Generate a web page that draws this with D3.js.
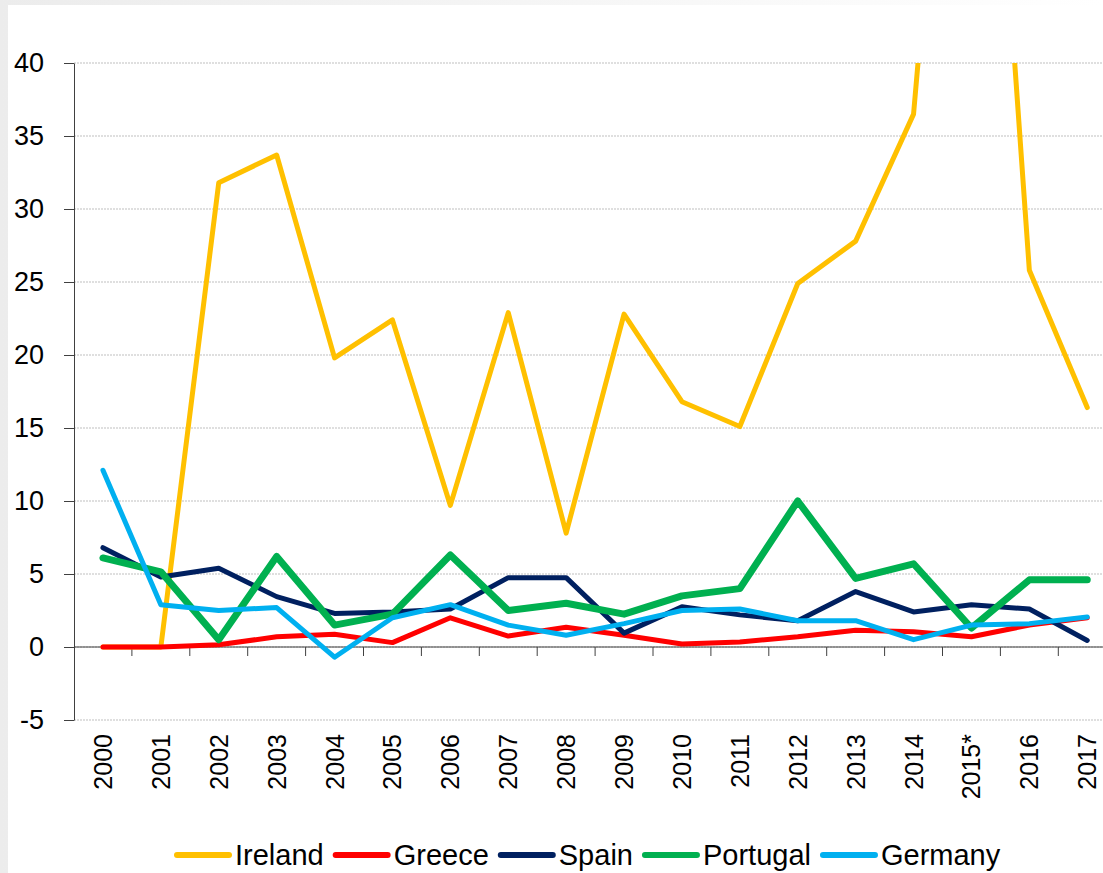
<!DOCTYPE html>
<html lang="en">
<head>
  <meta charset="UTF-8">
  <title>FDI inflows, % of GDP</title>
  <script src="https://d3js.org/d3.v7.min.js"></script>
  <style>
    body { margin: 0; background: #fff; }
    text { font-family: "Liberation Sans Narrow", "Liberation Sans", sans-serif; fill: #000; }
    .grid line { stroke: #bfbfbf; stroke-width: 1px; stroke-dasharray: 2 1; }
    .series { fill: none; stroke-linejoin: round; stroke-linecap: round; }
  </style>
</head>
<body>

<svg width="1103" height="873"></svg>

<script>
  // Years along the x axis
  var years = ['2000', '2001', '2002', '2003', '2004', '2005', '2006', '2007', '2008',
               '2009', '2010', '2011', '2012', '2013', '2014', '2015*', '2016', '2017'];

  // Values
  var ireland  = [0, 0, 31.8, 33.7, 19.8, 22.4, 9.7, 22.9, 7.8, 22.8, 16.8, 15.1, 24.9, 27.8, 36.5, 82, 25.8, 16.4];
  var greece   = [0, 0, 0.15, 0.7, 0.87, 0.3, 2.0, 0.75, 1.35, 0.8, 0.2, 0.35, 0.7, 1.15, 1.05, 0.7, 1.5, 2.0];
  var spain    = [6.8, 4.8, 5.4, 3.45, 2.3, 2.4, 2.6, 4.75, 4.75, 0.95, 2.75, 2.2, 1.8, 3.8, 2.4, 2.9, 2.6, 0.45];
  var portugal = [6.1, 5.15, 0.5, 6.2, 1.5, 2.25, 6.3, 2.5, 3.0, 2.25, 3.5, 4.0, 10.0, 4.7, 5.7, 1.3, 4.6, 4.6];
  var germany  = [12.1, 2.9, 2.5, 2.7, -0.7, 2.0, 2.9, 1.5, 0.8, 1.6, 2.5, 2.6, 1.8, 1.8, 0.5, 1.5, 1.6, 2.05];

  var yTicks = [-5, 0, 5, 10, 15, 20, 25, 30, 35, 40];

  var series = [
    { name: 'Ireland',  values: ireland,  color: '#FFC000', width: 5 },
    { name: 'Greece',   values: greece,   color: '#FF0000', width: 5 },
    { name: 'Spain',    values: spain,    color: '#002060', width: 5 },
    { name: 'Portugal', values: portugal, color: '#00B050', width: 7 },
    { name: 'Germany',  values: germany,  color: '#00B0F0', width: 5 }
  ];

  var svg = d3.select("svg"),
      width = +svg.attr("width"),
      height = +svg.attr("height");

  // faint grey frame on the left and top edge, like the source slide
  var bg = svg.append("defs").append("linearGradient").attr("id", "edge");
  bg.append("stop").attr("offset", "0%").attr("stop-color", "#ececec");
  bg.append("stop").attr("offset", "100%").attr("stop-color", "#ffffff");
  svg.append("rect").attr("width", width).attr("height", height).attr("fill", "url(#edge)");
  svg.append("rect").attr("x", 8).attr("y", 5).attr("width", width).attr("height", height).attr("fill", "#fff");

  var plotLeft = 74, plotTop = 63, plotBottom = 720;

  var x = d3.scaleBand()
      .domain(years)
      .range([plotLeft, plotLeft + 57.9 * years.length]);

  var y = d3.scaleLinear()
      .domain([-5, 40])
      .range([plotBottom, plotTop]);

  svg.append("clipPath").attr("id", "plot")
    .append("rect")
      .attr("x", plotLeft).attr("y", plotTop)
      .attr("width", width - plotLeft).attr("height", plotBottom - plotTop + 20);

  // gridlines
  svg.append("g")
      .attr("class", "grid")
    .selectAll("line")
    .data(yTicks)
    .enter().append("line")
      .attr("x1", plotLeft).attr("x2", width)
      .attr("y1", function(d) { return y(d); })
      .attr("y2", function(d) { return y(d); });

  // y axis (plain hyphen for the negative tick, as in the source)
  var yAxis = svg.append("g")
      .attr("transform", "translate(" + plotLeft + ",0)")
      .call(d3.axisLeft(y).tickValues(yTicks).tickFormat(function(d) { return String(d); })
        .tickSize(10).tickPadding(20).tickSizeOuter(0));
  yAxis.select(".domain").attr("stroke", "#404040");
  yAxis.selectAll(".tick line").attr("stroke", "#404040");
  yAxis.selectAll("text").style("font-size", "27px").style("font-family", "Liberation Sans, sans-serif");

  // x axis at zero, ticks between categories
  var xAxisG = svg.append("g")
      .attr("transform", "translate(0," + y(0) + ")");
  xAxisG.append("line")
      .attr("x1", plotLeft).attr("x2", width)
      .attr("stroke", "#404040");
  xAxisG.selectAll(".tk")
    .data(years.slice(1))
    .enter().append("line")
      .attr("x1", function(d) { return x(d); })
      .attr("x2", function(d) { return x(d); })
      .attr("y1", 0).attr("y2", 9)
      .attr("stroke", "#404040");

  // category labels, rotated, below the plot
  svg.append("g").selectAll("text")
    .data(years)
    .enter().append("text")
      .attr("transform", function(d) {
        return "translate(" + (x(d) + x.bandwidth() / 2 + 9) + "," + (plotBottom + 14) + ") rotate(-90)";
      })
      .attr("text-anchor", "end")
      .style("font-size", "25px")
      .text(function(d) { return d; });

  // lines
  var line = d3.line()
      .x(function(d, i) { return x(years[i]) + x.bandwidth() / 2; })
      .y(function(d) { return y(d); });

  svg.append("g")
      .attr("clip-path", "url(#plot)")
    .selectAll("path")
    .data(series)
    .enter().append("path")
      .attr("class", "series")
      .attr("d", function(d) { return line(d.values); })
      .attr("stroke", function(d) { return d.color; })
      .attr("stroke-width", function(d) { return d.width; });

  // legend
  var legend = svg.append("g").attr("transform", "translate(0,855)");
  var lx = 177;
  series.forEach(function(s) {
    legend.append("line")
        .attr("x1", lx).attr("x2", lx + 52)
        .attr("stroke", s.color)
        .attr("stroke-width", 6)
        .attr("stroke-linecap", "round");
    var t = legend.append("text")
        .attr("x", lx + 58)
        .attr("dy", "0.35em")
        .style("font-size", "29px")
        .text(s.name);
    lx += 58 + t.node().getComputedTextLength() + 12;
  });
</script>

</body>
</html>
